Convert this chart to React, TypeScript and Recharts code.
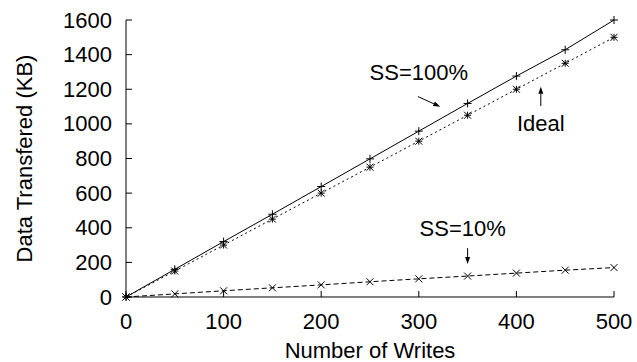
import React from 'react';
import { LineChart, Line, XAxis, YAxis, ReferenceLine, ReferenceDot } from 'recharts';

const writes = [0, 50, 100, 150, 200, 250, 300, 350, 400, 450, 500];
const ss100 = [0, 160, 320, 478, 638, 798, 958, 1118, 1276, 1428, 1600];
const ideal = [0, 150, 300, 450, 600, 750, 900, 1050, 1200, 1350, 1500];
const ss10 = [0, 18, 36, 53, 70, 88, 105, 121, 138, 155, 170];
const xTicks = [0, 100, 200, 300, 400, 500];
const yTicks = [0, 200, 400, 600, 800, 1000, 1200, 1400, 1600];

const data = writes.map((w, i) => ({ w, ss100: ss100[i], ideal: ideal[i], ss10: ss10[i] }));

const FONT = '"Liberation Sans", Arial, Helvetica, sans-serif';
const FS = 22;
const TL = 6;

const PlusDot = (p: any) => {
  const { cx, cy } = p;
  if (cx == null || cy == null) return <g key={p.key} />;
  const s = 4;
  return (
    <g key={p.key} stroke="#000" strokeWidth={1}>
      <line x1={cx - s} y1={cy} x2={cx + s} y2={cy} />
      <line x1={cx} y1={cy - s} x2={cx} y2={cy + s} />
    </g>
  );
};
const CrossDot = (p: any) => {
  const { cx, cy } = p;
  if (cx == null || cy == null) return <g key={p.key} />;
  const s = 3.5;
  return (
    <g key={p.key} stroke="#000" strokeWidth={1}>
      <line x1={cx - s} y1={cy - s} x2={cx + s} y2={cy + s} />
      <line x1={cx - s} y1={cy + s} x2={cx + s} y2={cy - s} />
    </g>
  );
};
const StarDot = (p: any) => {
  const { cx, cy } = p;
  if (cx == null || cy == null) return <g key={p.key} />;
  const s = 3.5;
  return (
    <g key={p.key} stroke="#000" strokeWidth={1}>
      <line x1={cx - s} y1={cy} x2={cx + s} y2={cy} />
      <line x1={cx} y1={cy - s} x2={cx} y2={cy + s} />
      <line x1={cx - s} y1={cy - s} x2={cx + s} y2={cy + s} />
      <line x1={cx - s} y1={cy + s} x2={cx + s} y2={cy - s} />
    </g>
  );
};

const BottomTick = (p: any) => {
  const { x, y, payload } = p;
  return (
    <g>
      <line x1={x} y1={y} x2={x} y2={y - TL} stroke="#000" />
      <text x={x} y={y + 32} textAnchor="middle" fontFamily={FONT} fontSize={FS} fill="#000">
        {payload.value}
      </text>
    </g>
  );
};
const TopTick = (p: any) => {
  const { x, y } = p;
  return <line x1={x} y1={y} x2={x} y2={y + TL} stroke="#000" />;
};
const LeftTick = (p: any) => {
  const { x, y, payload } = p;
  return (
    <g>
      <line x1={x} y1={y} x2={x + TL} y2={y} stroke="#000" />
      <text x={x - 14} y={y} textAnchor="end" dominantBaseline="central" fontFamily={FONT} fontSize={FS} fill="#000">
        {payload.value}
      </text>
    </g>
  );
};
const RightTick = (p: any) => {
  const { x, y } = p;
  return <line x1={x} y1={y} x2={x - TL} y2={y} stroke="#000" />;
};

const arrowShape = (p: any) => {
  const { x1, y1, x2, y2 } = p;
  if ([x1, y1, x2, y2].some((v) => v == null || isNaN(v))) return <g />;
  const dx = x2 - x1;
  const dy = y2 - y1;
  const len = Math.sqrt(dx * dx + dy * dy) || 1;
  const ux = dx / len;
  const uy = dy / len;
  const hl = 7;
  const hw = 2.5;
  const bx = x2 - ux * hl;
  const by = y2 - uy * hl;
  return (
    <g>
      <line x1={x1} y1={y1} x2={bx} y2={by} stroke="#000" strokeWidth={1} />
      <polygon
        points={`${x2},${y2} ${bx - uy * hw},${by + ux * hw} ${bx + uy * hw},${by - ux * hw}`}
        fill="#000"
      />
    </g>
  );
};

const textShape = (label: string) => (p: any) => {
  const { cx, cy } = p;
  return (
    <text x={cx} y={cy} textAnchor="middle" dominantBaseline="central" fontFamily={FONT} fontSize={FS} fill="#000">
      {label}
    </text>
  );
};

const annotations = [
  { label: 'SS=100%', x: 300, y: 1297 },
  { label: 'Ideal', x: 425, y: 1005 },
  { label: 'SS=10%', x: 345, y: 396 },
];
const arrows = [
  { x1: 299, y1: 1158, x2: 322, y2: 1099 },
  { x1: 425, y1: 1103, x2: 425, y2: 1215 },
  { x1: 350, y1: 282, x2: 350, y2: 190 },
];

export default function App() {
  return (
    <div style={{ position: 'absolute', left: 0, top: 0, width: 637, height: 362, background: '#fff' }}>
      <LineChart width={637} height={362} data={data} margin={{ top: 20, right: 23, bottom: 0, left: 0 }}>
        <XAxis
          dataKey="w"
          type="number"
          domain={[0, 500]}
          ticks={xTicks}
          height={65}
          tickSize={0}
          tickMargin={0}
          tickLine={false}
          axisLine={{ stroke: '#000' }}
          tick={BottomTick}
          interval={0}
          label={(lp: any) => {
            const vb = lp.viewBox || { x: 126, y: 297, width: 488, height: 65 };
            return (
              <text
                x={vb.x + vb.width / 2}
                y={vb.y + 53}
                textAnchor="middle"
                dominantBaseline="central"
                fontFamily={FONT}
                fontSize={FS}
                fill="#000"
              >
                Number of Writes
              </text>
            );
          }}
        />
        <XAxis
          xAxisId="top"
          orientation="top"
          dataKey="w"
          type="number"
          domain={[0, 500]}
          ticks={xTicks}
          height={0}
          tickSize={0}
          tickMargin={0}
          tickLine={false}
          axisLine={{ stroke: '#000' }}
          tick={TopTick}
          interval={0}
        />
        <YAxis
          type="number"
          domain={[0, 1600]}
          ticks={yTicks}
          width={126}
          tickSize={0}
          tickMargin={0}
          tickLine={false}
          axisLine={{ stroke: '#000' }}
          tick={LeftTick}
          interval={0}
          label={(lp: any) => {
            const vb = lp.viewBox || { x: 0, y: 20, width: 126, height: 277 };
            const cx = vb.x + 24;
            const cy = vb.y + vb.height / 2;
            return (
              <text
                x={cx}
                y={cy}
                transform={`rotate(-90, ${cx}, ${cy})`}
                textAnchor="middle"
                dominantBaseline="central"
                fontFamily={FONT}
                fontSize={FS}
                fill="#000"
              >
                Data Transfered (KB)
              </text>
            );
          }}
        />
        <YAxis
          yAxisId="right"
          orientation="right"
          type="number"
          domain={[0, 1600]}
          ticks={yTicks}
          width={0}
          tickSize={0}
          tickMargin={0}
          tickLine={false}
          axisLine={{ stroke: '#000' }}
          tick={RightTick}
          interval={0}
        />
        <Line
          dataKey="ideal"
          type="linear"
          stroke="#000"
          strokeWidth={1}
          strokeDasharray="2 3"
          dot={StarDot}
          activeDot={false}
          isAnimationActive={false}
        />
        <Line
          dataKey="ss100"
          type="linear"
          stroke="#000"
          strokeWidth={1}
          dot={PlusDot}
          activeDot={false}
          isAnimationActive={false}
        />
        <Line
          dataKey="ss10"
          type="linear"
          stroke="#000"
          strokeWidth={1}
          strokeDasharray="5 3"
          dot={CrossDot}
          activeDot={false}
          isAnimationActive={false}
        />
        {arrows.map((a, i) => (
          <ReferenceLine
            key={'a' + i}
            segment={[
              { x: a.x1, y: a.y1 },
              { x: a.x2, y: a.y2 },
            ]}
            shape={arrowShape}
            ifOverflow="visible"
          />
        ))}
        {annotations.map((t, i) => (
          <ReferenceDot key={'t' + i} x={t.x} y={t.y} r={0} shape={textShape(t.label)} ifOverflow="visible" />
        ))}
      </LineChart>
    </div>
  );
}
